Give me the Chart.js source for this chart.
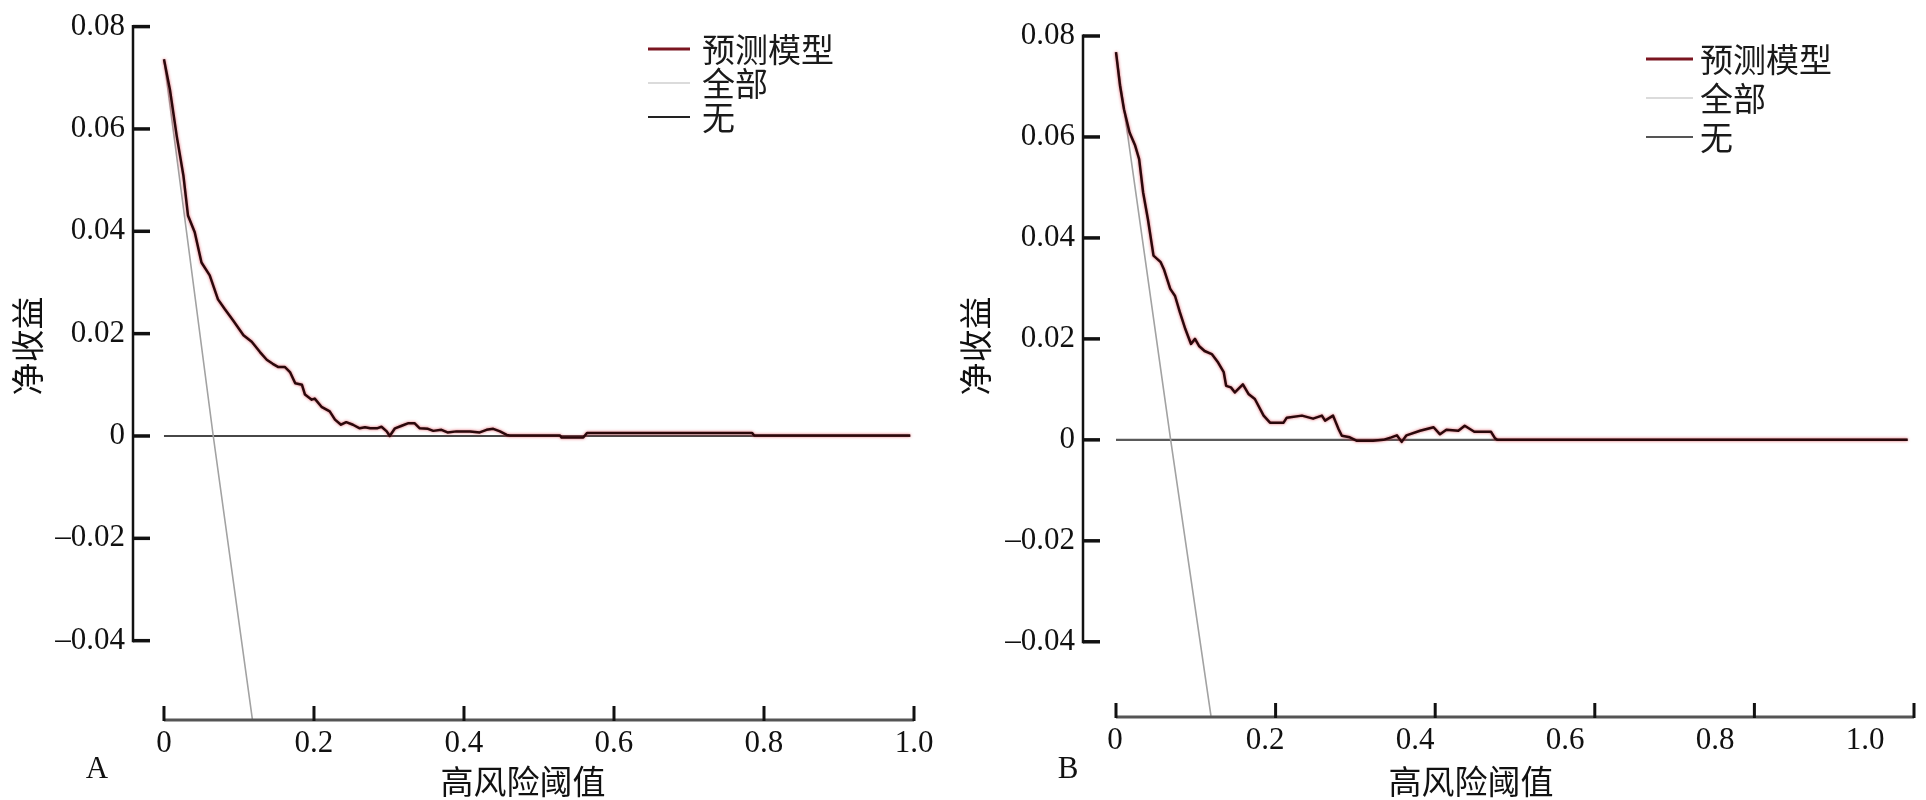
<!DOCTYPE html>
<html>
<head>
<meta charset="utf-8">
<script src="https://cdn.jsdelivr.net/npm/chart.js@4.4.1/dist/chart.umd.min.js"></script>
<style>
  html, body { margin: 0; padding: 0; background: #fff; }
  #wrap { position: relative; width: 1926px; height: 800px; overflow: hidden; }
  canvas { position: absolute; top: 0; }
  #chartA { left: 0; }
  #chartB { left: 940px; }
</style>
</head>
<body>
<div id="wrap">
  <canvas id="chartA" width="940" height="800"></canvas>
  <canvas id="chartB" width="986" height="800"></canvas>
</div>
<script>
// axis ticks shared by both panels
const xTicks = [0, 0.2, 0.4, 0.6, 0.8, 1.0];
const xTickLabels = ['0', '0.2', '0.4', '0.6', '0.8', '1.0'];
const yTicks = [-0.04, -0.02, 0, 0.02, 0.04, 0.06, 0.08];
const yTickLabels = ['\u20130.04', '\u20130.02', '0', '0.02', '0.04', '0.06', '0.08'];

const seriesNames = ['预测模型', '全部', '无'];

// Panel A
const thresholdsA = [0, 0.008, 0.017, 0.026, 0.032, 0.041, 0.050, 0.061, 0.072, 0.081,
  0.092, 0.106, 0.117, 0.128, 0.137, 0.145, 0.152, 0.161, 0.168, 0.175,
  0.184, 0.188, 0.197, 0.201, 0.210, 0.221, 0.228, 0.236, 0.243, 0.252,
  0.261, 0.268, 0.275, 0.284, 0.290, 0.297, 0.301, 0.308, 0.317, 0.326,
  0.334, 0.341, 0.352, 0.359, 0.370, 0.378, 0.390, 0.408, 0.421, 0.430,
  0.439, 0.448, 0.457, 0.461, 0.528, 0.530, 0.559, 0.564, 0.784, 0.787, 0.995];
const modelA = [0.0736, 0.0676, 0.0586, 0.0508, 0.0431, 0.0398, 0.0339, 0.0314, 0.0267, 0.0248,
  0.0226, 0.0197, 0.0184, 0.0164, 0.0149, 0.0141, 0.0135, 0.0135, 0.0125, 0.0103,
  0.0100, 0.0081, 0.0071, 0.0073, 0.0057, 0.0048, 0.0032, 0.0022, 0.0027, 0.0022,
  0.0015, 0.0017, 0.0015, 0.0015, 0.0018, 0.0009, 0.0000, 0.0015, 0.0020, 0.0025,
  0.0025, 0.0015, 0.0014, 0.0010, 0.0012, 0.0007, 0.0009, 0.0009, 0.0007, 0.0012,
  0.0014, 0.0009, 0.0002, 0.0001, 0.0001, -0.0003, -0.0003, 0.0006, 0.0006, 0.0001, 0.0001];
const allThrA = [0, 0.0657, 0.118];
const allA = [0.0736, 0, -0.0555];
const noneThrA = [0, 0.995];
const noneA = [0, 0];

// Panel B
const thresholdsB = [0, 0.005, 0.010, 0.017, 0.024, 0.029, 0.034, 0.040, 0.047, 0.056,
  0.060, 0.068, 0.074, 0.080, 0.087, 0.094, 0.099, 0.104, 0.111, 0.120,
  0.128, 0.135, 0.138, 0.144, 0.149, 0.159, 0.166, 0.174, 0.185, 0.193,
  0.210, 0.214, 0.233, 0.247, 0.258, 0.262, 0.272, 0.279, 0.283, 0.293,
  0.302, 0.322, 0.335, 0.345, 0.352, 0.358, 0.364, 0.381, 0.398, 0.406,
  0.414, 0.429, 0.437, 0.444, 0.449, 0.470, 0.475, 0.478, 0.992];
const modelB = [0.0768, 0.0702, 0.0655, 0.0609, 0.0583, 0.0556, 0.0490, 0.0437, 0.0365, 0.0352,
  0.0338, 0.0299, 0.0285, 0.0253, 0.0219, 0.0190, 0.0200, 0.0186, 0.0176, 0.0170,
  0.0153, 0.0134, 0.0107, 0.0104, 0.0094, 0.0110, 0.0091, 0.0081, 0.0048, 0.0034,
  0.0034, 0.0044, 0.0048, 0.0042, 0.0048, 0.0038, 0.0048, 0.0021, 0.0008, 0.0005,
  -0.0002, -0.0002, 0.0000, 0.0005, 0.0009, -0.0004, 0.0009, 0.0018, 0.0025, 0.0011,
  0.0020, 0.0018, 0.0028, 0.0021, 0.0016, 0.0016, 0.0003, 0.0000, 0.0000];
const allThrB = [0, 0.0685, 0.119];
const allB = [0.0768, 0, -0.0547];
const noneThrB = [0, 0.992];
const noneB = [0, 0];

const serif = '"Liberation Serif", "Times New Roman", serif';
const cjk = '"Noto Sans CJK SC", sans-serif';

function pts(xs, ys) {
  return ys.map((v, i) => ({ x: xs[i], y: v }));
}

function decor(p) {
  return {
    id: 'decor',
    beforeDatasetDraw(chart, args) {
      if (args.index === 0) {
        chart.ctx.save();
        chart.ctx.shadowColor = 'rgba(215,40,55,0.75)';
        chart.ctx.shadowBlur = 3;
      }
    },
    afterDatasetDraw(chart, args) {
      if (args.index === 0) chart.ctx.restore();
    },
    afterDraw(chart) {
      const ctx = chart.ctx, x = chart.scales.x, y = chart.scales.y, a = chart.chartArea;
      ctx.save();
      // y axis, spanning first to last tick
      ctx.strokeStyle = '#111';
      ctx.lineWidth = 2.5;
      ctx.beginPath();
      ctx.moveTo(a.left, y.getPixelForValue(yTicks[yTicks.length - 1]) - 1.5);
      ctx.lineTo(a.left, y.getPixelForValue(yTicks[0]) + 1.5);
      ctx.stroke();
      ctx.lineWidth = 3.5;
      yTicks.forEach(v => {
        const py = y.getPixelForValue(v);
        ctx.beginPath();
        ctx.moveTo(a.left, py);
        ctx.lineTo(a.left + 17, py);
        ctx.stroke();
      });
      // x axis
      ctx.strokeStyle = '#555';
      ctx.lineWidth = 3;
      ctx.beginPath();
      ctx.moveTo(x.getPixelForValue(xTicks[0]), a.bottom);
      ctx.lineTo(x.getPixelForValue(xTicks[xTicks.length - 1]), a.bottom);
      ctx.stroke();
      ctx.strokeStyle = '#111';
      xTicks.forEach(v => {
        const px = x.getPixelForValue(v);
        ctx.beginPath();
        ctx.moveTo(px, a.bottom + 1);
        ctx.lineTo(px, a.bottom - 14);
        ctx.stroke();
      });

      // titles and panel letter
      ctx.fillStyle = '#111';
      ctx.textAlign = 'center';
      ctx.textBaseline = 'middle';
      ctx.font = '33px ' + cjk;
      ctx.fillText('高风险阈值', p.xTitle[0], p.xTitle[1]);
      ctx.save();
      ctx.translate(p.yTitle[0], p.yTitle[1]);
      ctx.rotate(-Math.PI / 2);
      ctx.fillText('净收益', 0, 0);
      ctx.restore();
      ctx.font = '31px ' + serif;
      ctx.fillText(p.letter, p.letterPos[0], p.letterPos[1]);

      // legend
      const sw = [
        { color: '#7a1520', width: 3 },
        { color: '#cfcfcf', width: 1.5 },
        { color: p.noneSwatch, width: 2.2 }
      ];
      ctx.textAlign = 'left';
      ctx.font = '33px ' + cjk;
      seriesNames.forEach((name, i) => {
        const ly = p.legendY[i];
        ctx.strokeStyle = sw[i].color;
        ctx.lineWidth = sw[i].width;
        ctx.beginPath();
        ctx.moveTo(p.legendX[0], ly);
        ctx.lineTo(p.legendX[1], ly);
        ctx.stroke();
        ctx.fillStyle = '#1a1a1a';
        ctx.fillText(name, p.legendX[2], ly);
      });
      ctx.restore();
    }
  };
}

function makePanel(id, p) {
  new Chart(document.getElementById(id), {
    type: 'line',
    data: {
      datasets: [
        { label: seriesNames[0], data: pts(p.thr, p.model), borderColor: '#2a080b', borderWidth: 2.5 },
        { label: seriesNames[1], data: pts(p.allThr, p.all), borderColor: '#a2a2a2', borderWidth: 1.6 },
        { label: seriesNames[2], data: pts(p.noneThr, p.none), borderColor: p.noneColor, borderWidth: 2.2 }
      ]
    },
    options: {
      responsive: false,
      animation: false,
      events: [],
      devicePixelRatio: 1,
      elements: { point: { radius: 0 }, line: { tension: 0, borderJoinStyle: 'round' } },
      layout: { padding: { left: 0, top: p.top, right: p.right, bottom: 0 } },
      plugins: { legend: { display: false }, tooltip: { enabled: false } },
      scales: {
        x: {
          type: 'linear', display: false, min: p.xMin, max: 1.0
        },
        x2: {
          type: 'linear', position: 'bottom', min: p.x2Min, max: p.x2Max,
          grid: { display: false, drawTicks: false },
          border: { display: false },
          afterBuildTicks: s => { s.ticks = xTicks.map(v => ({ value: v })); },
          afterFit: s => { s.height = p.bottomH; },
          ticks: {
            padding: 5, color: '#111', maxRotation: 0, autoSkip: false,
            font: { family: serif, size: 31 },
            callback: v => xTickLabels[xTicks.indexOf(v)]
          }
        },
        y: {
          type: 'linear', position: 'left', min: p.yMin, max: 0.08,
          grid: { display: false, drawTicks: false },
          border: { display: false },
          afterBuildTicks: s => { s.ticks = yTicks.map(v => ({ value: v })); },
          afterFit: s => { s.width = p.leftW; },
          ticks: {
            padding: 8, color: '#111', autoSkip: false,
            font: { family: serif, size: 31 },
            callback: v => yTickLabels[yTicks.indexOf(v)]
          }
        }
      }
    },
    plugins: [decor(p)]
  });
}

makePanel('chartA', {
  thr: thresholdsA, model: modelA, allThr: allThrA, all: allA, noneThr: noneThrA, none: noneA,
  top: 23, right: 26, leftW: 133, bottomH: 80,
  xMin: -0.0413, x2Min: -0.0413, x2Max: 1.0, yMin: -0.0555,
  noneColor: '#474747', noneSwatch: '#222',
  xTitle: [523, 781], yTitle: [27, 346], letter: 'A', letterPos: [97, 770],
  legendX: [648, 690, 702], legendY: [49, 83, 117]
});

makePanel('chartB', {
  thr: thresholdsB, model: modelB, allThr: allThrB, all: allB, noneThr: noneThrB, none: noneB,
  top: 36, right: 12, leftW: 143, bottomH: 83,
  xMin: -0.04135, x2Min: -0.04267, x2Max: 1.0653, yMin: -0.0549,
  noneColor: '#5a5a5a', noneSwatch: '#555',
  xTitle: [531, 781], yTitle: [35, 346], letter: 'B', letterPos: [128, 770],
  legendX: [706, 753, 760], legendY: [59, 98, 137]
});
</script>
</body>
</html>
